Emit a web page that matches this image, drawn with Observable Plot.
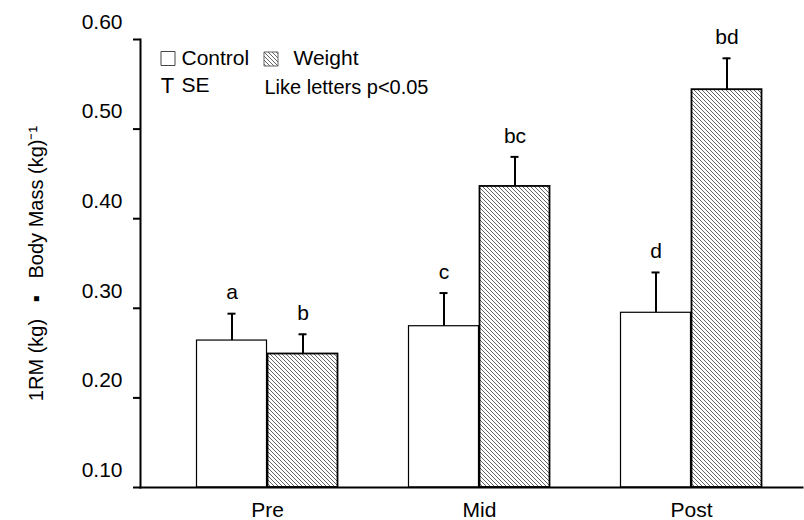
<!DOCTYPE html>
<html><head><meta charset="utf-8">
<script src="https://cdn.jsdelivr.net/npm/d3@7"></script>
<script src="https://cdn.jsdelivr.net/npm/@observablehq/plot@0.6"></script>
<style>
body{margin:0;background:#fff;}
#chart svg{font-family:"Liberation Sans",Arial,Helvetica,sans-serif;}
</style></head><body><div id="chart"></div>
<script>
const groups = ["Pre", "Mid", "Post"];
const controlMean = [0.264, 0.280, 0.295];
const controlSE = [0.030, 0.037, 0.045];
const weightMean = [0.249, 0.436, 0.544];
const weightSE = [0.022, 0.033, 0.035];
const controlLetters = ["a", "c", "d"];
const weightLetters = ["b", "bc", "bd"];
const yTicks = [0.10, 0.20, 0.30, 0.40, 0.50, 0.60];
const seriesNames = ["Control", "Weight"];
const seLabel = "SE";
const noteLabel = "Like letters p<0.05";
const yLabel = "1RM (kg)\u00a0\u00a0\u00a0\u25aa\u00a0\u00a0\u00a0Body Mass (kg)\u207b\u00b9";

const control = groups.map((g, i) => ({group: g, mean: controlMean[i], top: controlMean[i] + controlSE[i], letter: controlLetters[i]}));
const weight = groups.map((g, i) => ({group: g, mean: weightMean[i], top: weightMean[i] + weightSE[i], letter: weightLetters[i]}));

const FS = 21;
const legendText = {frameAnchor: "top-left", textAnchor: "start", lineAnchor: "middle", fill: "#000", fontSize: FS};

const chart = Plot.plot({
  width: 804, height: 520,
  marginLeft: 140, marginRight: 2, marginTop: 39, marginBottom: 33,
  style: {fontFamily: "'Liberation Sans', Arial, sans-serif", fontSize: FS + "px", color: "#000", background: "#fff"},
  x: {domain: groups, paddingInner: 0, paddingOuter: 0.054, align: 0.8},
  y: {domain: [0.1, 0.6]},
  marks: [
    Plot.barY(control, {x: "group", y1: 0.1, y2: "mean", fill: "#fff", stroke: "#000", strokeWidth: 1.2, insetLeft: 35.5, insetRight: 106.5}),
    Plot.barY(weight, {x: "group", y1: 0.1, y2: "mean", fill: "url(#hatch)", stroke: "#000", strokeWidth: 1.8, insetLeft: 106.5, insetRight: 35.5}),
    Plot.ruleX(control, {x: "group", y1: "mean", y2: "top", dx: -35.5, strokeWidth: 2}),
    Plot.ruleX(weight, {x: "group", y1: "mean", y2: "top", dx: 35.5, strokeWidth: 2}),
    Plot.tickY(control, {x: "group", y: "top", insetLeft: 66.5, insetRight: 137.5, strokeWidth: 2}),
    Plot.tickY(weight, {x: "group", y: "top", insetLeft: 137.5, insetRight: 66.5, strokeWidth: 2}),
    Plot.text(control, {x: "group", y: "top", text: "letter", dx: -35.5, dy: -21, lineAnchor: "middle", fontSize: FS}),
    Plot.text(weight, {x: "group", y: "top", text: "letter", dx: 35.5, dy: -21, lineAnchor: "middle", fontSize: FS}),
    Plot.frame({anchor: "left", strokeWidth: 2}),
    Plot.frame({anchor: "bottom", strokeWidth: 2}),
    Plot.axisY({ticks: yTicks, tickSize: 7, strokeWidth: 2, tickFormat: () => "", label: yLabel, labelAnchor: "center", labelArrow: "none", labelOffset: 112, fontSize: 20}),
    Plot.axisY({ticks: yTicks, tickSize: 0, tickPadding: 18, tickFormat: ".2f", dy: -17.5, label: null, fontSize: FS}),
    Plot.axisX({tickSize: 0, tickPadding: 15, label: null, fontSize: FS}),
    // legend
    Plot.dot([seriesNames[0]], {x: null, y: null, frameAnchor: "top-left", dx: 27.5, dy: 19, symbol: "square", r: 7.9, fill: "#fff", stroke: "#444", strokeWidth: 1}),
    Plot.text([seriesNames[0]], {...legendText, dx: 41, dy: 19}),
    Plot.dot([seriesNames[1]], {x: null, y: null, frameAnchor: "top-left", dx: 130.5, dy: 19.5, symbol: "square", r: 7.9, fill: "url(#hatch)", stroke: "#666", strokeWidth: 1}),
    Plot.text([seriesNames[1]], {...legendText, dx: 153, dy: 19}),
    Plot.text(["T"], {...legendText, textAnchor: "middle", dx: 27, dy: 46, fontSize: 22}),
    Plot.text([seLabel], {...legendText, dx: 41, dy: 46}),
    Plot.text([noteLabel], {...legendText, dx: 124, dy: 48, fontSize: 20})
  ]
});

const defs = d3.select(chart).insert("defs", ":first-child");
const pat = defs.append("pattern").attr("id", "hatch").attr("patternUnits", "userSpaceOnUse").attr("width", 4).attr("height", 4);
pat.append("rect").attr("width", 4).attr("height", 4).attr("fill", "#fff");
pat.append("path").attr("d", "M-1,-1L5,5M3,-1L5,1M-1,3L1,5").attr("stroke", "#555").attr("stroke-width", 0.9);

document.getElementById("chart").appendChild(chart);
</script></body></html>
